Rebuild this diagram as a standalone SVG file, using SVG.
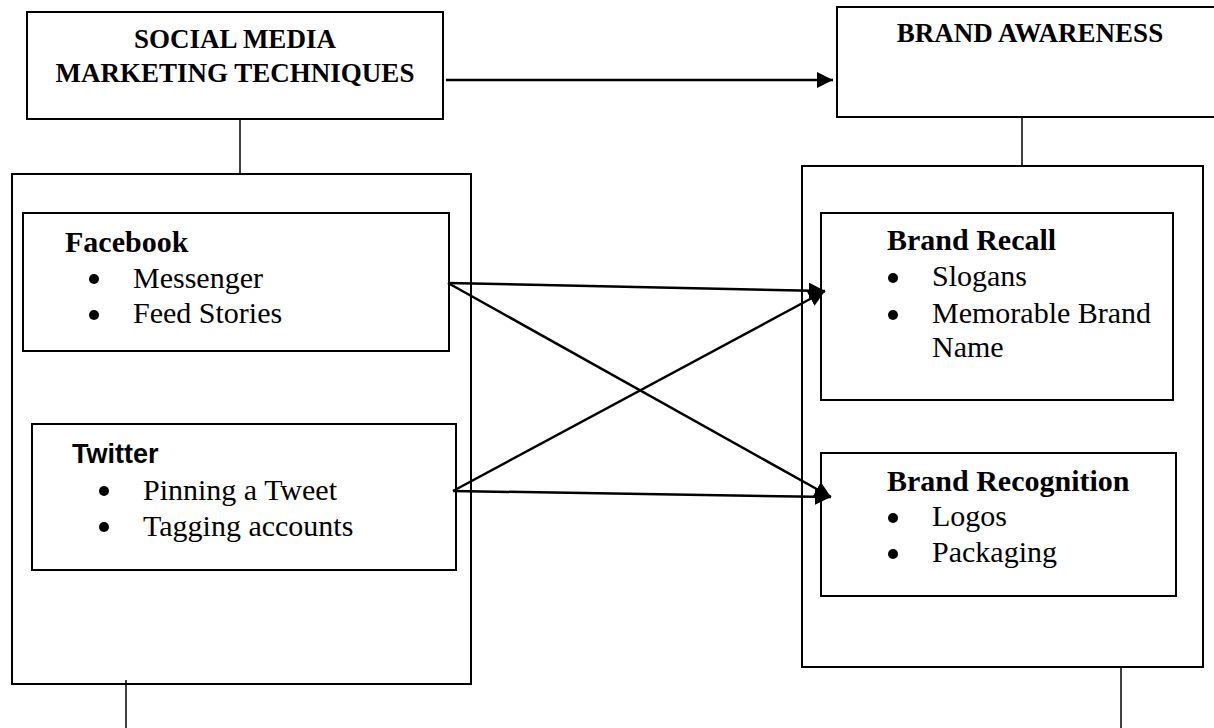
<svg xmlns="http://www.w3.org/2000/svg" width="1214" height="728" viewBox="0 0 1214 728">
<defs>
<style>
.box{fill:none;stroke:#000;stroke-width:2}
.ln{stroke:#000;stroke-width:1.5;fill:none}
.ar{stroke:#000;stroke-width:2.5;fill:none;marker-end:url(#ah)}
.hd{font-family:"Liberation Serif","Times New Roman",serif;font-weight:bold;font-size:27px;fill:#000}
.tt{font-family:"Liberation Serif","Times New Roman",serif;font-weight:bold;font-size:30px;fill:#000}
.tx{font-family:"Liberation Serif","Times New Roman",serif;font-size:30px;fill:#000}
.sn{font-family:"Liberation Sans",Arial,sans-serif;font-weight:bold;font-size:27px;fill:#000}
</style>
<marker id="ah" viewBox="0 0 10 10" refX="10" refY="5" markerWidth="6.5" markerHeight="6.5" markerUnits="strokeWidth" orient="auto">
<path d="M0,0 L10,5 L0,10 z" fill="#000"/>
</marker>
</defs>
<rect width="1214" height="728" fill="#fff"/>

<g id="smmt">
<rect class="box" x="27" y="12" width="416" height="107"/>
<text class="hd" x="235" y="48" text-anchor="middle">SOCIAL MEDIA</text>
<text class="hd" x="235" y="82" text-anchor="middle">MARKETING TECHNIQUES</text>
</g>

<g id="brand-awareness">
<rect class="box" x="837" y="7" width="390" height="110"/>
<text class="hd" x="1030" y="42" text-anchor="middle">BRAND AWARENESS</text>
</g>

<g id="left-container">
<rect class="box" x="12" y="174" width="459" height="510"/>
</g>

<g id="right-container">
<rect class="box" x="802" y="166" width="401" height="501"/>
</g>

<g id="facebook">
<rect class="box" x="23" y="213" width="426" height="138"/>
<text class="tt" x="65" y="252">Facebook</text>
<circle cx="94" cy="279" r="5"/>
<text class="tx" x="133" y="288">Messenger</text>
<circle cx="94" cy="315" r="5"/>
<text class="tx" x="133" y="323">Feed Stories</text>
</g>

<g id="twitter">
<rect class="box" x="32" y="424" width="424" height="146"/>
<text class="sn" x="72" y="463">Twitter</text>
<circle cx="104" cy="491" r="5"/>
<text class="tx" x="143" y="500">Pinning a Tweet</text>
<circle cx="104" cy="527" r="5"/>
<text class="tx" x="143" y="536">Tagging accounts</text>
</g>

<g id="brand-recall">
<rect class="box" x="821" y="213" width="352" height="187"/>
<text class="tt" x="887" y="250">Brand Recall</text>
<circle cx="893" cy="278" r="5"/>
<text class="tx" x="932" y="286">Slogans</text>
<circle cx="893" cy="315" r="5"/>
<text class="tx" x="932" y="323">Memorable Brand</text>
<text class="tx" x="932" y="357">Name</text>
</g>

<g id="brand-recognition">
<rect class="box" x="821" y="453" width="355" height="143"/>
<text class="tt" x="887" y="491">Brand Recognition</text>
<circle cx="893" cy="518" r="5"/>
<text class="tx" x="932" y="526">Logos</text>
<circle cx="893" cy="554" r="5"/>
<text class="tx" x="932" y="562">Packaging</text>
</g>

<g id="connectors">
<line class="ln" x1="240" y1="119" x2="240" y2="174"/>
<line class="ln" x1="1022" y1="117" x2="1022" y2="166"/>
<line class="ln" x1="126" y1="680" x2="126" y2="728"/>
<line class="ln" x1="1121" y1="667" x2="1121" y2="728"/>
<line class="ar" x1="446" y1="80" x2="833" y2="80"/>
<line class="ar" x1="448" y1="283" x2="825" y2="291"/>
<line class="ar" x1="448" y1="283" x2="831" y2="497"/>
<line class="ar" x1="453" y1="491" x2="825" y2="291"/>
<line class="ar" x1="453" y1="491" x2="831" y2="497"/>
</g>
</svg>
